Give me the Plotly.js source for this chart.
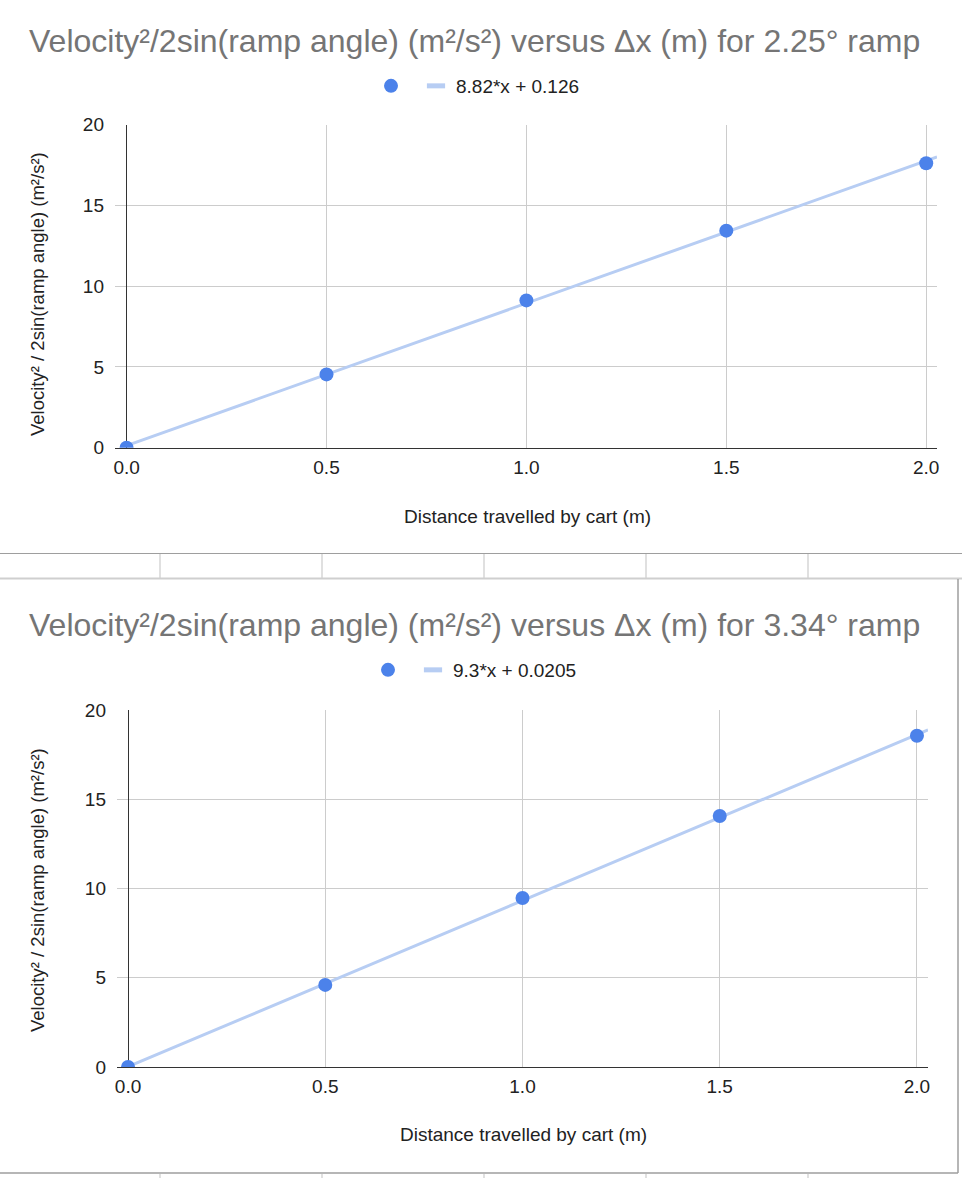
<!DOCTYPE html>
<html>
<head>
<meta charset="utf-8">
<script src="https://cdn.plot.ly/plotly-3.0.1.min.js"></script>
<style>
  html, body { margin: 0; padding: 0; background: #fff; }
  #chart { width: 962px; height: 1178px; }
</style>
</head>
<body>
<div id="chart"></div>
<script>
// ---- Data ----
const chartTitles = [
  "Velocity²/2sin(ramp angle) (m²/s²) versus Δx (m) for 2.25° ramp",
  "Velocity²/2sin(ramp angle) (m²/s²) versus Δx (m) for 3.34° ramp"
];
const xAxisTitle = "Distance travelled by cart (m)";
const yAxisTitle = "Velocity² / 2sin(ramp angle) (m²/s²)";

const distance1 = [0, 0.5, 1.0, 1.5, 2.0];
const value1 = [0, 4.54, 9.12, 13.44, 17.61];
const slope1 = 8.82;
const intercept1 = 0.126;

const distance2 = [0, 0.5, 1.0, 1.5, 2.0];
const value2 = [0, 4.6, 9.47, 14.06, 18.56];
const slope2 = 9.3;
const intercept2 = 0.0205;

const xTickVals = [0, 0.5, 1.0, 1.5, 2.0];
const xTickText = ["0.0", "0.5", "1.0", "1.5", "2.0"];
const yTickVals = [0, 5, 10, 15, 20];

// ---- Styling ----
const W = 962, H = 1178;
const px = x => x / W;
const py = y => 1 - y / H;
const FONT = "Liberation Sans, Arial, Helvetica, sans-serif";
const pointColor = "#4c82ea";
const trendColor = "#b7cdf3";
const LABEL = 19;

const x1Range = [-0.029, 2.027];
const x2Range = [-0.028, 2.028];

function trendTrace(slope, intercept, xr, xa, ya) {
  const xs = [0, xr[1]];
  return {
    x: xs, y: xs.map(v => slope * v + intercept),
    xaxis: xa, yaxis: ya, mode: "lines", showlegend: false,
    line: { color: trendColor, width: 3 }, hoverinfo: "skip"
  };
}
function legendLabel(slope, intercept) {
  return slope + "*x + " + intercept;
}

const traces = [
  trendTrace(slope1, intercept1, x1Range, "x", "y"),
  { x: distance1, y: value1, xaxis: "x", yaxis: "y", mode: "markers", name: "",
    marker: { color: pointColor, size: 14 }, legend: "legend", cliponaxis: true },
  { x: [null], y: [null], xaxis: "x", yaxis: "y", mode: "markers",
    name: legendLabel(slope1, intercept1), legend: "legend",
    marker: { symbol: "line-ew", size: 13, line: { color: trendColor, width: 5 } } },

  trendTrace(slope2, intercept2, x2Range, "x2", "y2"),
  { x: distance2, y: value2, xaxis: "x2", yaxis: "y2", mode: "markers", name: "",
    marker: { color: pointColor, size: 14 }, legend: "legend2", cliponaxis: true },
  { x: [null], y: [null], xaxis: "x2", yaxis: "y2", mode: "markers",
    name: legendLabel(slope2, intercept2), legend: "legend2",
    marker: { symbol: "line-ew", size: 13, line: { color: trendColor, width: 5 } } }
];

const xBase = {
  tickmode: "array", tickvals: xTickVals, ticktext: xTickText,
  showgrid: true, gridcolor: "#cccccc", gridwidth: 1,
  zeroline: true, zerolinecolor: "#333333", zerolinewidth: 1,
  showline: true, linecolor: "#333333", linewidth: 1,
  ticks: "", ticklabelstandoff: 2,
  tickfont: { family: FONT, size: LABEL, color: "#222222" },
  fixedrange: true
};
const yBase = {
  range: [0, 20], tickmode: "array", tickvals: yTickVals,
  showgrid: true, gridcolor: "#cccccc", gridwidth: 1,
  zeroline: false, showline: false, ticks: "", ticklabelstandoff: 10,
  tickfont: { family: FONT, size: LABEL, color: "#222222" },
  fixedrange: true
};

const shapeLine = (x0, y0, x1, y1, color, width) => ({
  type: "line", xref: "paper", yref: "paper",
  x0: px(x0), y0: py(y0), x1: px(x1), y1: py(y1),
  line: { color: color, width: width }
});

const shapes = [
  shapeLine(0, 553.5, 962, 553.5, "#9e9e9e", 1),
  shapeLine(160, 554, 160, 578, "#e0e0e0", 2),
  shapeLine(322, 554, 322, 578, "#e0e0e0", 2),
  shapeLine(484, 554, 484, 578, "#e0e0e0", 2),
  shapeLine(646, 554, 646, 578, "#e0e0e0", 2),
  shapeLine(808, 554, 808, 578, "#e0e0e0", 2),
  shapeLine(0, 578.5, 962, 578.5, "#cfcfcf", 2),
  shapeLine(958, 579, 958, 1173, "#9e9e9e", 1.5),
  shapeLine(0, 1173, 958, 1173, "#9e9e9e", 1.5),
  shapeLine(160, 1174, 160, 1178, "#e0e0e0", 2),
  shapeLine(322, 1174, 322, 1178, "#e0e0e0", 2),
  shapeLine(484, 1174, 484, 1178, "#e0e0e0", 2),
  shapeLine(646, 1174, 646, 1178, "#e0e0e0", 2),
  shapeLine(808, 1174, 808, 1178, "#e0e0e0", 2)
];

const ann = (text, x, y, size, color, angle) => ({
  text: text, xref: "paper", yref: "paper", x: px(x), y: py(y),
  xanchor: "center", yanchor: "middle", showarrow: false,
  textangle: angle || 0, font: { family: FONT, size: size, color: color }
});

const annotations = [
  ann(chartTitles[0], 474, 41, 32, "#757575"),
  ann(xAxisTitle, 527, 516, LABEL, "#222222"),
  ann(yAxisTitle, 37, 294, 18.5, "#222222", -90),
  ann(chartTitles[1], 474, 625, 32, "#757575"),
  ann(xAxisTitle, 523, 1134, LABEL, "#222222"),
  ann(yAxisTitle, 37, 890, 18.5, "#222222", -90)
];

const legendBase = {
  orientation: "h", xanchor: "left", yanchor: "middle",
  font: { family: FONT, size: LABEL, color: "#222222" },
  bgcolor: "rgba(0,0,0,0)", borderwidth: 0, itemclick: false, itemdoubleclick: false
};

const layout = {
  width: W, height: H,
  margin: { l: 0, r: 0, t: 0, b: 0 },
  paper_bgcolor: "#ffffff", plot_bgcolor: "#ffffff",
  showlegend: true,
  xaxis: Object.assign({}, xBase, { range: x1Range, domain: [px(115), px(937)], anchor: "y" }),
  yaxis: Object.assign({}, yBase, { domain: [py(447.7), py(124.7)], anchor: "x" }),
  xaxis2: Object.assign({}, xBase, { range: x2Range, domain: [px(117), px(928)], anchor: "y2" }),
  yaxis2: Object.assign({}, yBase, { domain: [py(1067), py(710)], anchor: "x2" }),
  legend: Object.assign({}, legendBase, { x: px(371), y: py(86) }),
  legend2: Object.assign({}, legendBase, { x: px(368), y: py(670) }),
  shapes: shapes,
  annotations: annotations
};

Plotly.newPlot("chart", traces, layout, { displayModeBar: false, staticPlot: true });
</script>
</body>
</html>
